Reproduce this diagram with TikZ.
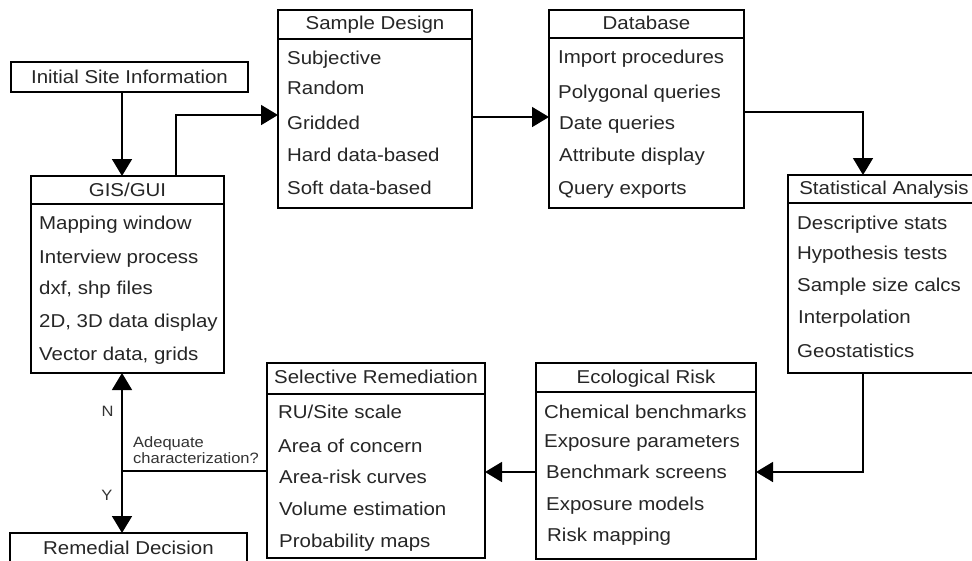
\documentclass[tikz,border=0pt]{standalone}
\usepackage{fontspec}
\setmainfont{Liberation Sans}[FakeStretch=1.1]
\usetikzlibrary{arrows.meta}
\tikzset{
  boxshape/.style={draw=black, line width=1.6pt, inner sep=0pt, outer sep=0pt, anchor=north west},
  hdr/.style={anchor=base, inner sep=0pt, text=black!85, font=\fontsize{18.6}{22}\selectfont},
  item/.style={anchor=base west, inner sep=0pt, text=black!85, font=\fontsize{18.6}{22}\selectfont},
  small/.style={anchor=base west, inner sep=0pt, text=black!80, font=\fontsize{15}{17}\selectfont},
  conn/.style={draw=black, line width=1.6pt},
  arr/.style={conn, -{Triangle[length=17pt, width=20pt]}},
}
\begin{document}
\begin{tikzpicture}[x=1pt, y=-1pt]
\useasboundingbox (0,0) rectangle (972,560);
\clip (0,0) rectangle (972,560);
\fill[white] (0,0) rectangle (972,560);

% helper coordinates
\coordinate (cA) at (122,0);
\coordinate (cB) at (176,0);
\coordinate (cC) at (0,115);
\coordinate (cD) at (0,117);
\coordinate (cE) at (0,112);
\coordinate (cF) at (863,0);
\coordinate (cG) at (0,472);
\coordinate (j) at (122,471);

% Initial Site Information
\node[boxshape, minimum width=237pt, minimum height=30pt] (init) at (11,62) {};
\node[hdr] (initT) at (129.5,83.5) {Initial Site Information};

% GIS/GUI
\node[boxshape, minimum width=193pt, minimum height=197pt] (gis) at (31,176) {};
\draw[conn] (31,204) -- (224,204);
\node[hdr] (gisT) at (127.5,196.5) {GIS/GUI};
\node[item] (gis1) at (39,229.5) {Mapping window};
\node[item] (gis2) at (39,263.5) {Interview process};
\node[item] (gis3) at (39,294.5) {dxf, shp files};
\node[item] (gis4) at (39,327.5) {2D, 3D data display};
\node[item] (gis5) at (39,360.5) {Vector data, grids};

% Sample Design
\node[boxshape, minimum width=194pt, minimum height=198pt] (sd) at (278,10) {};
\draw[conn] (278,39) -- (472,39);
\node[hdr] (sdT) at (375,29.5) {Sample Design};
\node[item] (sd1) at (287,64.5) {Subjective};
\node[item] (sd2) at (287,94.5) {Random};
\node[item] (sd3) at (287,129.5) {Gridded};
\node[item] (sd4) at (287,161.5) {Hard data-based};
\node[item] (sd5) at (287,194.5) {Soft data-based};

% Database
\node[boxshape, minimum width=195pt, minimum height=198pt] (db) at (549,10) {};
\draw[conn] (549,38) -- (744,38);
\node[hdr] (dbT) at (646.5,29.5) {Database};
\node[item] (db1) at (558,63.5) {Import procedures};
\node[item] (db2) at (558,98.5) {Polygonal queries};
\node[item] (db3) at (559,129.5) {Date queries};
\node[item] (db4) at (559,161.5) {Attribute display};
\node[item] (db5) at (558,194.5) {Query exports};

% Statistical Analysis
\node[boxshape, minimum width=194pt, minimum height=198pt] (sa) at (788,175) {};
\draw[conn] (788,203) -- (982,203);
\node[hdr] (saT) at (884,194.5) {Statistical Analysis};
\node[item] (sa1) at (797,229.5) {Descriptive stats};
\node[item] (sa2) at (797,259.5) {Hypothesis tests};
\node[item] (sa3) at (797,291.5) {Sample size calcs};
\node[item] (sa4) at (798,323.5) {Interpolation};
\node[item] (sa5) at (797,357.5) {Geostatistics};

% Ecological Risk
\node[boxshape, minimum width=220pt, minimum height=196pt] (eco) at (536,363) {};
\draw[conn] (536,392) -- (756,392);
\node[hdr] (ecoT) at (646,383.5) {Ecological Risk};
\node[item] (eco1) at (544,418.5) {Chemical benchmarks};
\node[item] (eco2) at (544,447.5) {Exposure parameters};
\node[item] (eco3) at (546,478.5) {Benchmark screens};
\node[item] (eco4) at (546,510.5) {Exposure models};
\node[item] (eco5) at (547,541.5) {Risk mapping};

% Selective Remediation
\node[boxshape, minimum width=218pt, minimum height=195pt] (sr) at (267,363) {};
\draw[conn] (267,394) -- (485,394);
\node[hdr] (srT) at (376,383.5) {Selective Remediation};
\node[item] (sr1) at (278,418.5) {RU/Site scale};
\node[item] (sr2) at (278,452.5) {Area of concern};
\node[item] (sr3) at (279,483.5) {Area-risk curves};
\node[item] (sr4) at (279,515.5) {Volume estimation};
\node[item] (sr5) at (279,547.5) {Probability maps};

% Remedial Decision
\node[boxshape, minimum width=237pt, minimum height=40pt] (rd) at (10,533) {};
\node[hdr] (rdT) at (128.5,554.5) {Remedial Decision};

% connectors
\draw[arr] (init.south -| cA) -- (gis.north -| cA);
\draw[arr] (gis.north -| cB) |- (sd.west |- cC);
\draw[arr] (sd.east |- cD) -- (db.west |- cD);
\draw[arr] (db.east |- cE) -| (sa.north -| cF);
\draw[arr] (sa.south -| cF) |- (eco.east |- cG);
\draw[arr] (eco.west |- cG) -- (sr.east |- cG);
\draw[conn] (sr.west |- j) -- (j);
\draw[arr] (j) -- (gis.south -| j);
\draw[arr] (j) -- (rd.north -| j);

% labels
\node[small, anchor=base] (lN) at (107.5,416) {N};
\node[small, anchor=base] (lY) at (107,500) {Y};
\node[small] (lq1) at (133,447) {Adequate};
\node[small] (lq2) at (133,463) {characterization?};
\end{tikzpicture}
\end{document}
